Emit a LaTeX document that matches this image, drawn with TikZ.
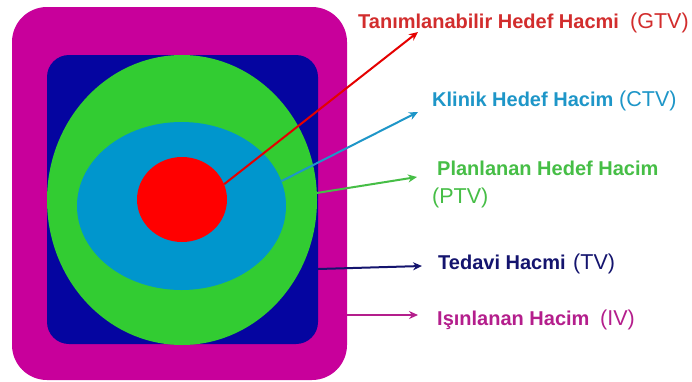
\documentclass[tikz,border=0pt]{standalone}
\usepackage{fontspec}
\setmainfont{Liberation Sans}
\usetikzlibrary{arrows.meta,shapes.geometric}
\definecolor{ivmag}{RGB}{200,0,155}
\definecolor{tvblue}{RGB}{5,5,160}
\definecolor{ptvgreen}{RGB}{50,204,50}
\definecolor{ctvcyan}{RGB}{0,150,205}
\definecolor{gtvred}{RGB}{255,0,0}
\definecolor{tred}{RGB}{210,45,45}
\definecolor{tcyan}{RGB}{30,150,200}
\definecolor{tgreen}{RGB}{70,190,70}
\definecolor{tblue}{RGB}{20,20,110}
\definecolor{tmag}{RGB}{180,30,140}
\tikzset{
  lbl/.style={anchor=base west, inner sep=0pt, font=\fontsize{20}{22}\selectfont\bfseries},
  abbr/.style={anchor=base west, inner sep=0pt, font=\fontsize{21.5}{24}\selectfont},
  arr/.style={line width=2pt, -{Stealth[length=9pt,width=8pt]}},
  vol/.style={ellipse, inner sep=0pt, draw=none}
}
\begin{document}
\begin{tikzpicture}[x=1pt,y=-1pt]
\useasboundingbox (0,0) rectangle (692,381);
\fill[white] (0,0) rectangle (692,381);
% volumes
\node[rectangle, rounded corners=35pt, fill=ivmag, minimum width=335pt, minimum height=373pt, inner sep=0pt] (iv) at (179.5,193.5) {};
\node[rectangle, rounded corners=22pt, fill=tvblue, minimum width=271pt, minimum height=289pt, inner sep=0pt] (tv) at (182.5,199.5) {};
\node[vol, fill=ptvgreen, minimum width=270pt, minimum height=290pt] (ptv) at (182,200) {};
\node[vol, fill=ctvcyan, minimum width=209pt, minimum height=168pt] (ctv) at (181.5,206) {};
\node[vol, fill=gtvred, minimum width=90pt, minimum height=85pt] (gtv) at (182,199.5) {};
% connector start/end points
\coordinate (tvs) at (318,269);
\coordinate (ivs) at (347,315);
\coordinate (gtvt) at (418,32);
\coordinate (ctvt) at (418,112);
\coordinate (ptvt) at (417,177);
\coordinate (tvt) at (422,266);
\coordinate (ivt) at (418,315);
% labels
\node[lbl, text=tred] (gtvl) at (358,28) {Tanımlanabilir Hedef Hacmi};
\node[abbr, text=tred] (gtva) at (630,28) {(GTV)};
\node[lbl, text=tcyan] (ctvl) at (432,106) {Klinik Hedef Hacim};
\node[abbr, text=tcyan] (ctva) at (619,106) {(CTV)};
\node[lbl, text=tgreen] (ptvl) at (437,175) {Planlanan Hedef Hacim};
\node[abbr, text=tgreen] (ptva) at (432,203) {(PTV)};
\node[lbl, text=tblue] (tvl) at (438,269) {Tedavi Hacmi};
\node[abbr, text=tblue] (tva) at (573,269) {(TV)};
\node[lbl, text=tmag] (ivl) at (437,325) {Işınlanan Hacim};
\node[abbr, text=tmag] (iva) at (600,325) {(IV)};
% connectors
\draw[arr, draw=red!90!black] (gtv.20) -- (gtvt);
\draw[arr, draw=tcyan] (ctv.14) -- (ctvt);
\draw[arr, draw=tgreen] (ptv.3) -- (ptvt);
\draw[arr, draw=tblue] (tvs) -- (tvt);
\draw[arr, draw=tmag] (ivs) -- (ivt);
\end{tikzpicture}
\end{document}
